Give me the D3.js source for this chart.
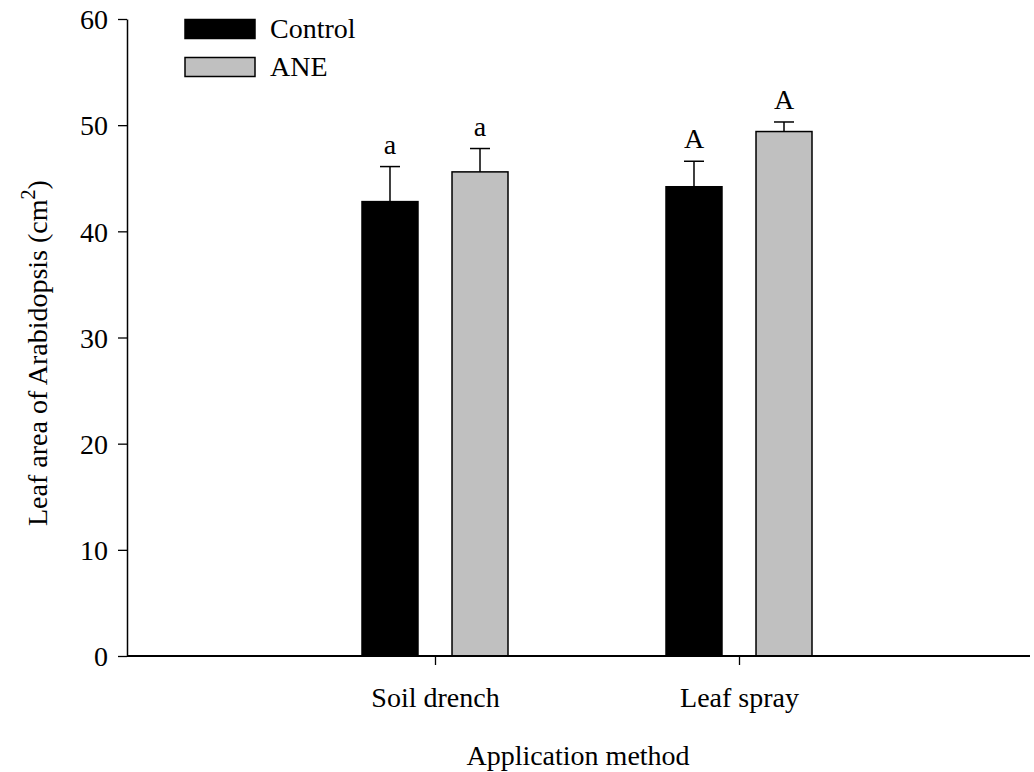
<!DOCTYPE html>
<html><head><meta charset="utf-8">
<script src="https://cdn.jsdelivr.net/npm/d3@7"></script>
<style>body{margin:0;background:#fff}svg{display:block}text{font-family:"Liberation Serif","Times New Roman",serif;fill:#000}</style>
</head><body>
<script>
const categories = ["Soil drench", "Leaf spray"];
const seriesNames = ["Control", "ANE"];
const controlValues = [42.8, 44.2];
const aneValues = [45.6, 49.4];
const controlErrors = [3.3, 2.4];
const aneErrors = [2.2, 0.9];
const controlLetters = ["a", "A"];
const aneLetters = ["a", "A"];
const yTicks = [0, 10, 20, 30, 40, 50, 60];
const colors = ["#000000", "#c0c0c0"];

const W = 1034, H = 772;
const svg = d3.select("body").append("svg").attr("width", W).attr("height", H);

const y = d3.scaleLinear().domain([0, 60]).range([656, 19]);
const x = d3.scalePoint().domain(categories).range([435, 739]);
const sub = d3.scaleBand().domain(seriesNames).range([-73, 73]).paddingInner(0.378);

const series = [
  {name: "Control", values: controlValues, errs: controlErrors, letters: controlLetters, color: colors[0]},
  {name: "ANE", values: aneValues, errs: aneErrors, letters: aneLetters, color: colors[1]}
];

const fs = 28;
series.forEach(s => {
  const g = svg.append("g");
  categories.forEach((c, i) => {
    const x0 = x(c) + sub(s.name);
    const bw = sub.bandwidth();
    const cx = x0 + bw / 2;
    const top = y(s.values[i] + s.errs[i]);
    g.append("line").attr("x1", cx).attr("x2", cx).attr("y1", y(s.values[i])).attr("y2", top)
      .attr("stroke", "#000").attr("stroke-width", 1.5);
    g.append("line").attr("x1", cx - 10).attr("x2", cx + 10).attr("y1", top).attr("y2", top)
      .attr("stroke", "#000").attr("stroke-width", 1.5);
    g.append("rect").attr("x", x0).attr("y", y(s.values[i])).attr("width", bw)
      .attr("height", y(0) - y(s.values[i])).attr("fill", s.color)
      .attr("stroke", "#000").attr("stroke-width", 1.5);
    g.append("text").attr("x", cx).attr("y", top - 13).attr("text-anchor", "middle")
      .attr("font-size", fs).text(s.letters[i]);
  });
});

// y axis
const yAxis = svg.append("g").attr("transform", "translate(127,0)")
  .call(d3.axisLeft(y).tickValues(yTicks).tickSize(9).tickPadding(10).tickSizeOuter(0));
yAxis.select(".domain").attr("stroke-width", 1.5);
yAxis.selectAll(".tick line").attr("stroke-width", 1.3);
yAxis.selectAll("text").attr("font-size", fs).attr("font-family", "Liberation Serif").attr("dy", "0.35em");

// x axis
const xAxis = svg.append("g").attr("transform", "translate(0,656)")
  .call(d3.axisBottom(x).tickSize(9).tickPadding(22).tickSizeOuter(0));
xAxis.select(".domain").attr("d", "M127,0H1030").attr("stroke-width", 1.8);
xAxis.selectAll(".tick line").attr("stroke-width", 1.3);
xAxis.selectAll("text").attr("font-size", fs).attr("font-family", "Liberation Serif").attr("dy", "0.71em");

// axis titles
svg.append("text").attr("x", 578).attr("y", 765).attr("text-anchor", "middle")
  .attr("font-size", fs).text("Application method");
const yt = svg.append("text").attr("transform", "translate(47,526) rotate(-90)")
  .attr("text-anchor", "start").attr("font-size", fs);
yt.append("tspan").text("Leaf area of Arabidopsis (cm");
yt.append("tspan").attr("dy", -12).attr("font-size", 20).text("2");
yt.append("tspan").attr("dy", 12).text(")");

// legend
const leg = svg.append("g");
series.forEach((s, i) => {
  leg.append("rect").attr("x", 185).attr("y", 19.5 + i * 38).attr("width", 70).attr("height", 19)
    .attr("fill", s.color).attr("stroke", "#000").attr("stroke-width", 1.5);
  leg.append("text").attr("x", 270).attr("y", 38 + i * 38).attr("font-size", fs).text(s.name);
});
</script>
</body></html>
